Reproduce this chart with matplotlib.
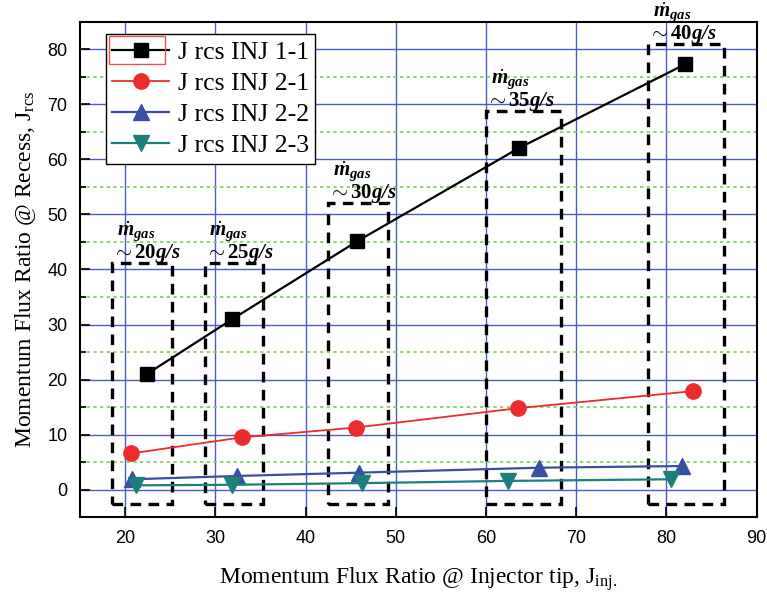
import matplotlib
matplotlib.use("Agg")
import matplotlib.pyplot as plt
from matplotlib.patches import Rectangle
from matplotlib.ticker import MultipleLocator, FixedLocator

# data
x_11 = [22.4, 31.9, 45.7, 63.6, 82.1]
y_11 = [21.0, 31.0, 45.1, 62.0, 77.3]
x_21 = [20.7, 32.9, 45.6, 63.5, 82.9]
y_21 = [6.6, 9.5, 11.3, 14.8, 17.9]
x_22 = [20.8, 32.4, 45.9, 65.9, 81.7]
y_22 = [1.9, 2.5, 3.1, 4.0, 4.3]
x_23 = [21.2, 31.9, 46.2, 62.4, 80.5]
y_23 = [0.8, 0.9, 1.2, 1.6, 1.9]
labels = ["J rcs INJ 1-1", "J rcs INJ 2-1", "J rcs INJ 2-2", "J rcs INJ 2-3"]

# mass flow groups (dashed boxes)
box_left = [18.6, 28.8, 42.5, 60.0, 78.0]
box_right = [25.2, 35.3, 49.1, 68.3, 86.4]
box_top = [41.2, 41.2, 52.1, 68.8, 80.9]
box_bottom = -2.5
mdot_labels = ["20", "25", "30", "35", "40"]

plt.rcParams["mathtext.fontset"] = "custom"
plt.rcParams["mathtext.rm"] = "Liberation Serif"
plt.rcParams["mathtext.it"] = "Liberation Serif:italic"
plt.rcParams["mathtext.bf"] = "Liberation Serif:bold"
plt.rcParams["mathtext.bfit"] = "Liberation Serif:italic:bold"

fig = plt.figure(figsize=(7.67, 5.98), dpi=100)
ax = fig.add_axes([0.1043, 0.1350, 0.8823, 0.8288])

ax.plot(x_11, y_11, color="black", lw=1.6, marker="s", ms=9.5, label=labels[0], zorder=5)
ax.plot(x_21, y_21, color="#EE2B2B", lw=1.3, marker="o", ms=11, label=labels[1], zorder=5)
ax.plot(x_22, y_22, color="#3A4FA3", lw=1.6, marker="^", ms=11, label=labels[2], zorder=5)
ax.plot(x_23, y_23, color="#1B807B", lw=1.6, marker="v", ms=11, label=labels[3], zorder=5)

for i in range(len(box_left)):
    w = box_right[i] - box_left[i]
    h = box_top[i] - box_bottom
    ax.add_patch(Rectangle((box_left[i], box_bottom), w, h, fill=False,
                           ec="black", lw=2.4, ls=(0, (3.2, 2.2)), zorder=4))
    ax.text(box_left[i] + 0.5, box_top[i] + 5.7, r"$\dot{\mathbfit{m}}_{\mathbfit{gas}}$",
            fontsize=15, ha="left", va="center")
    ax.text(box_left[i], box_top[i] + 1.7,
            r"$\sim\mathbf{" + mdot_labels[i] + r"}\mathbfit{g/s}$",
            fontsize=15, ha="left", va="center")

ax.set_xlim(15, 90)
ax.set_ylim(-5, 85)
ax.xaxis.set_major_locator(MultipleLocator(10))
ax.yaxis.set_major_locator(FixedLocator(range(0, 81, 10)))
ax.yaxis.set_minor_locator(FixedLocator(range(5, 80, 10)))

ax.grid(which="major", color="#4B5CC4", lw=1.0)
ax.grid(which="minor", axis="y", color="#7DD05A", lw=1.2, ls=(0, (2, 2)))
ax.set_axisbelow(True)

ax.tick_params(which="major", direction="in", length=7, width=1.2, labelsize=13, pad=9)
ax.tick_params(which="minor", direction="in", length=4, width=1.2)
for lab in ax.get_xticklabels() + ax.get_yticklabels():
    lab.set_family("Liberation Sans")
for sp in ax.spines.values():
    sp.set_linewidth(1.5)

ax.set_xlabel(r"Momentum Flux Ratio @ Injector tip, J$_{\rm inj.}$",
              family="Liberation Serif", fontsize=17, labelpad=13)
ax.set_ylabel(r"Momentum Flux Ratio @ Recess, J$_{\rm rcs}$",
              family="Liberation Serif", fontsize=17, labelpad=7)

leg = ax.legend(loc="upper left", bbox_to_anchor=(0.0384, 0.9746), borderaxespad=0,
                prop={"family": "Liberation Serif", "size": 18.5}, fancybox=False,
                edgecolor="black", framealpha=1, labelspacing=0.32,
                handlelength=2.2, handletextpad=0.35, borderpad=0.25)
leg.get_frame().set_linewidth(1.0)
leg.set_zorder(10)

# red selection outline around first legend handle, as in the source image
fig.patches.append(Rectangle((109 / 767, 1 - 64 / 598), 56 / 767, 28 / 598,
                             transform=fig.transFigure, fill=False, ec="#F05050",
                             lw=1.0, zorder=20))

fig.savefig("out.png", dpi=100)
